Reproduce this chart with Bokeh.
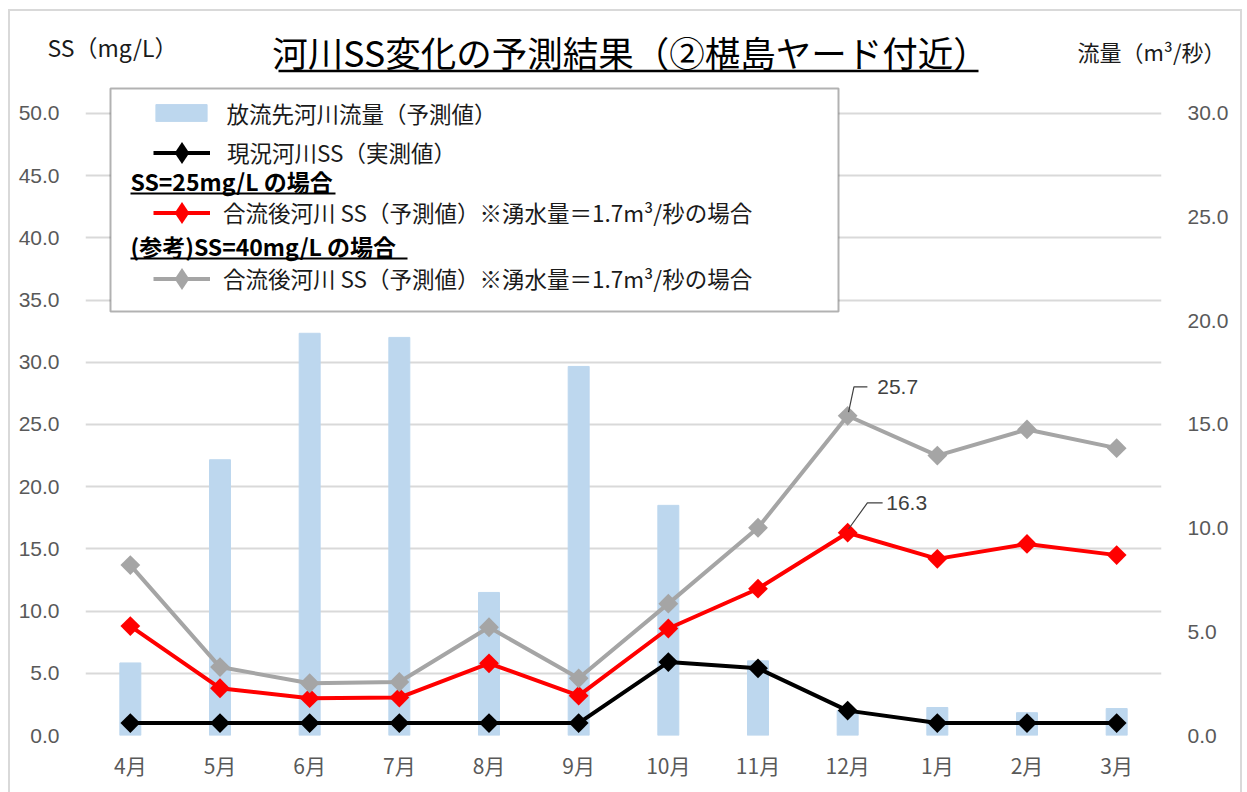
import numpy as np
from bokeh.plotting import figure
from bokeh.layouts import column
from bokeh.models import (Range1d, LinearAxis, FixedTicker, NumeralTickFormatter,
                          BoxAnnotation, Label, Legend, LegendItem, ColumnDataSource)
from bokeh.embed import file_html
from bokeh.resources import INLINE

# ---------------- data ----------------
months = ["4月", "5月", "6月", "7月", "8月", "9月", "10月", "11月", "12月", "1月", "2月", "3月"]
flow = [3.5, 13.3, 19.4, 19.2, 6.9, 17.8, 11.1, 3.6, 1.2, 1.35, 1.1, 1.3]          # m3/s (right axis)
ss_current = [1.0, 1.0, 1.0, 1.0, 1.0, 1.0, 5.9, 5.4, 2.0, 1.0, 1.0, 1.0]            # 現況河川SS
ss_25 = [8.8, 3.8, 3.0, 3.05, 5.8, 3.2, 8.6, 11.8, 16.3, 14.2, 15.4, 14.5]           # SS=25mg/L
ss_40 = [13.7, 5.5, 4.2, 4.3, 8.7, 4.6, 10.6, 16.7, 25.7, 22.5, 24.6, 23.1]          # SS=40mg/L
left_ticks = [0, 5, 10, 15, 20, 25, 30, 35, 40, 45, 50]
right_ticks = [0, 5, 10, 15, 20, 25, 30]
peak_index = 8  # 12月 labelled points

title_text = "河川SS変化の予測結果（②椹島ヤード付近）"
left_title = "SS（mg/L）"
right_title = "流量（m³/秒）"
legend_labels = ["放流先河川流量（予測値）", "現況河川SS（実測値）",
                 "合流後河川 SS（予測値）※湧水量＝1.7m³/秒の場合",
                 "合流後河川 SS（予測値）※湧水量＝1.7m³/秒の場合"]
heading1 = "SS=25mg/L の場合"
heading2 = "(参考)SS=40mg/L の場合"

JP = "Noto Sans CJK JP"
NUM = "Liberation Sans"
x = list(range(len(months)))

W, H = 1247, 792
TOP_H = 85
BL, BR = 85, 86          # left / right borders of both frames (frame spans x 85..1161)

# ---------------- header (title, axis titles) ----------------
top = figure(width=W, height=TOP_H, output_backend="svg", toolbar_location=None,
             x_range=Range1d(BL, W - BR), y_range=Range1d(TOP_H, 0),
             x_axis_type=None, y_axis_type=None,
             min_border_left=BL, min_border_right=BR, min_border_top=0, min_border_bottom=0)
top.outline_line_color = None
top.background_fill_alpha = 0
top.border_fill_alpha = 0
top.add_layout(Label(x=630, y=51, text=title_text, text_align="center", text_baseline="middle",
                     text_font=JP, text_font_size="35.5px", text_color="#000000"))
top.segment(x0=[278], y0=[70.5], x1=[978], y1=[70.5], line_color="#000000", line_width=2.5)
# axis titles drawn as single tick labels of header axes (so they are not clipped)
lt = LinearAxis(ticker=FixedTicker(ticks=[46]), major_label_overrides={46: left_title})
rt = LinearAxis(ticker=FixedTicker(ticks=[50]), major_label_overrides={50: right_title})
top.add_layout(lt, "left")
top.add_layout(rt, "right")
for a, std, fs in [(lt, -92, "23px"), (rt, -84, "22px")]:
    a.axis_line_color = None
    a.major_tick_line_color = None
    a.minor_tick_line_color = None
    a.major_tick_out = 0
    a.major_tick_in = 0
    a.major_label_standoff = std
    a.major_label_text_font = JP
    a.major_label_text_font_size = fs
    a.major_label_text_color = "#1a1a1a"

# ---------------- main chart ----------------
FL, FB = 85, 735
def fx(v):
    return v - FL
def fy(v):
    return FB - v

left_end = 52.25
p = figure(width=W, height=H - TOP_H, output_backend="svg", toolbar_location=None,
           x_range=Range1d(-0.5, 11.5), y_range=Range1d(0, left_end),
           min_border_left=BL, min_border_right=BR, min_border_top=0, min_border_bottom=57)
p.extra_y_ranges = {"right": Range1d(0, left_end * 30 / 50)}
p.outline_line_color = None
p.background_fill_color = "white"
p.border_fill_alpha = 0
p.xgrid.visible = False
p.ygrid.ticker = FixedTicker(ticks=left_ticks)
p.ygrid.grid_line_color = "#d9d9d9"
p.ygrid.grid_line_width = 2

ax = p.xaxis[0]
ax.ticker = FixedTicker(ticks=x)
ax.major_label_overrides = {i: m for i, m in enumerate(months)}
ay = p.yaxis[0]
ay.ticker = FixedTicker(ticks=left_ticks)
ay.formatter = NumeralTickFormatter(format="0.0")
ry = LinearAxis(y_range_name="right", ticker=FixedTicker(ticks=right_ticks),
                formatter=NumeralTickFormatter(format="0.0"))
p.add_layout(ry, "right")
for a, font, std in [(ax, JP, 8), (ay, NUM, 20), (ry, NUM, 20)]:
    a.axis_line_color = None
    a.major_tick_line_color = None
    a.minor_tick_line_color = None
    a.major_label_text_font = font
    a.major_label_text_font_size = "21px"
    a.major_label_text_color = "#595959"
    a.major_label_standoff = std

bars = p.vbar(x=x, top=flow, width=0.234, y_range_name="right", color="#bdd7ee")
rend = {}
nan = float("nan")
for key, ys, col, sz in [("cur", ss_current, "#000000", 14),
                         ("s25", ss_25, "#ff0000", 14),
                         ("s40", ss_40, "#a5a5a5", 14)]:
    ln = p.line(x, ys, line_color=col, line_width=4)
    p.scatter(x, ys, marker="square", angle=np.pi / 4, size=sz,
              fill_color=col, line_color=col, line_width=0)
    # off-chart renderer used only for the legend sample marker
    dummy = p.scatter(x="x", y="y", source=ColumnDataSource(dict(x=[nan], y=[nan])),
                      marker="diamond", size=20, fill_color=col, line_color=col, line_width=0)
    rend[key] = [ln, dummy]

# data labels with leader lines
for ys, dx1, dy1, dx2, dxt in [(ss_40, 0.07, 2.33, 0.22, 0.33), (ss_25, 0.22, 2.4, 0.39, 0.43)]:
    v = ys[peak_index]
    xi = x[peak_index]
    p.line([xi + 0.01, xi + dx1, xi + dx2], [v + 0.3, v + dy1, v + dy1],
           line_color="#404040", line_width=1.2)
    p.add_layout(Label(x=xi + dxt, y=v + dy1, text=f"{v:.1f}", text_baseline="middle",
                       text_font=NUM, text_font_size="21px", text_color="#404040"))

# legend box
p.add_layout(BoxAnnotation(left=fx(110), right=fx(838), top=fy(88), bottom=fy(311),
                           left_units="screen", right_units="screen", top_units="screen",
                           bottom_units="screen", fill_color="white", fill_alpha=1,
                           line_color="#000000", line_width=2))

def mk_legend(item, x_img, center_img, gw, gh, standoff):
    lg = Legend(items=[item], location=(fx(x_img), fy(center_img + gh / 2)),
                orientation="vertical", padding=0, margin=0, spacing=0,
                glyph_width=gw, glyph_height=gh, label_height=20, label_standoff=standoff,
                background_fill_alpha=0, border_line_color=None, label_text_font=JP,
                label_text_font_size="22.5px", label_text_color="#1a1a1a")
    p.add_layout(lg)

mk_legend(LegendItem(label=legend_labels[0], renderers=[bars]), 148.6, 118, 64, 21, 14)
mk_legend(LegendItem(label=legend_labels[1], renderers=rend["cur"]), 153, 152, 57, 55, 17)
mk_legend(LegendItem(label=legend_labels[2], renderers=rend["s25"]), 153, 212, 57, 55, 13)
mk_legend(LegendItem(label=legend_labels[3], renderers=rend["s40"]), 153, 278, 57, 55, 13)

for txt, yc, xr in [(heading1, 180, 335), (heading2, 245, 407)]:
    p.add_layout(Label(x=fx(130), y=fy(yc), text=txt, x_units="screen", y_units="screen",
                       text_align="left", text_baseline="middle", text_font=JP,
                       text_font_style="bold", text_font_size="23px", text_color="#000000"))
    p.add_layout(BoxAnnotation(left=fx(130), right=fx(xr), top=fy(yc + 12), bottom=fy(yc + 14),
                               left_units="screen", right_units="screen", top_units="screen",
                               bottom_units="screen", fill_color="#000000", fill_alpha=1,
                               line_color=None))

g = "linear-gradient(#d9d9d9,#d9d9d9)"
layout = column(top, p, spacing=0,
                styles={"background": f"{g} 8px 9px / 2px 900px no-repeat, "
                                      f"{g} 1240px 9px / 2px 900px no-repeat, "
                                      f"{g} 8px 9px / 1234px 2px no-repeat, white"})

open("out.html", "w").write(file_html(layout, INLINE))
